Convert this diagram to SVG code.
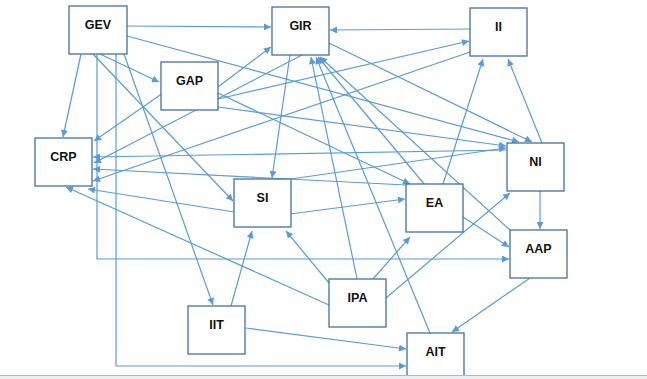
<svg xmlns="http://www.w3.org/2000/svg" width="647" height="379" viewBox="0 0 647 379">
<defs>
<style>
.n rect{fill:#fff;stroke:#41719c;stroke-width:1.3}
.n text{font-family:"Liberation Sans",Arial,sans-serif;font-weight:bold;font-size:12.5px;fill:#111;text-anchor:middle}
#edges path{fill:none;stroke:#5b9bd5;stroke-width:1.2;marker-end:url(#ah)}
</style>
<marker id="ah" viewBox="0 0 10 10" refX="10" refY="5" markerWidth="8" markerHeight="7" markerUnits="userSpaceOnUse" orient="auto">
<path d="M0,0 L10,5 L0,10 z" fill="#5b9bd5"/>
</marker>
</defs>
<rect width="647" height="379" fill="#fff"/>
<g id="edges">
<path d="M127,26 L271,27"/>
<path d="M127,36 L519,142"/>
<path d="M100,54 L159,82"/>
<path d="M81,54 L63,137"/>
<path d="M93,54 L233,201"/>
<path d="M124,54 L213,305"/>
<path d="M97,54 V259 H509"/>
<path d="M116,54 V366 H406"/>
<path d="M163,93 L94,141"/>
<path d="M218,87 L271,47"/>
<path d="M218,93 L410,184"/>
<path d="M218,107 L506,146"/>
<path d="M218,99 L469,41"/>
<path d="M470,29 L330,30"/>
<path d="M470,52 L93,181"/>
<path d="M302,55 L94,163"/>
<path d="M290,55 L272,178"/>
<path d="M329,43 L532,142"/>
<path d="M507,150 L93,157"/>
<path d="M406,185 L93,169"/>
<path d="M291,179 L506,148"/>
<path d="M443,184 L483,59"/>
<path d="M542,143 L508,59"/>
<path d="M540,191 L540,229"/>
<path d="M463,217 L509,247"/>
<path d="M290,214 L405,199"/>
<path d="M234,212 L88,189"/>
<path d="M329,305 L66,187"/>
<path d="M329,283 L286,231"/>
<path d="M357,279 L311,57"/>
<path d="M373,279 L410,237"/>
<path d="M386,298 L510,193"/>
<path d="M231,306 L252,231"/>
<path d="M246,328 L406,349"/>
<path d="M530,278 L452,332"/>
<path d="M430,333 L316,57"/>
<path d="M510,230 L320,57"/>
<path d="M425,185 L318,57"/>
</g>
<g id="GEV" class="n"><rect x="69" y="6" width="58" height="48"/><text x="98" y="29">GEV</text></g>
<g id="GIR" class="n"><rect x="272" y="7" width="57" height="48"/><text x="300.5" y="29.5">GIR</text></g>
<g id="II" class="n"><rect x="470" y="8" width="57" height="48"/><text x="498.5" y="30.5">II</text></g>
<g id="GAP" class="n"><rect x="161" y="62" width="57" height="48"/><text x="189.5" y="84.5">GAP</text></g>
<g id="CRP" class="n"><rect x="35" y="138" width="57" height="48"/><text x="63.5" y="160.5">CRP</text></g>
<g id="SI" class="n"><rect x="234" y="179" width="57" height="48"/><text x="262.5" y="201.5">SI</text></g>
<g id="EA" class="n"><rect x="406" y="184" width="57" height="48"/><text x="434.5" y="206.5">EA</text></g>
<g id="NI" class="n"><rect x="507" y="143" width="57" height="48"/><text x="535.5" y="165.5">NI</text></g>
<g id="AAP" class="n"><rect x="510" y="230" width="57" height="48"/><text x="538.5" y="252.5">AAP</text></g>
<g id="IPA" class="n"><rect x="329" y="279" width="57" height="48"/><text x="357.5" y="301.5">IPA</text></g>
<g id="IIT" class="n"><rect x="188" y="306" width="57" height="48"/><text x="216.5" y="328.5">IIT</text></g>
<g id="AIT" class="n"><rect x="407" y="333" width="57" height="48"/><text x="435.5" y="355.5">AIT</text></g>
<rect x="0" y="375" width="647" height="4" fill="#eceef0"/>
<line x1="0" y1="375.5" x2="647" y2="375.5" stroke="#b4b8bc" stroke-width="1"/>
</svg>
